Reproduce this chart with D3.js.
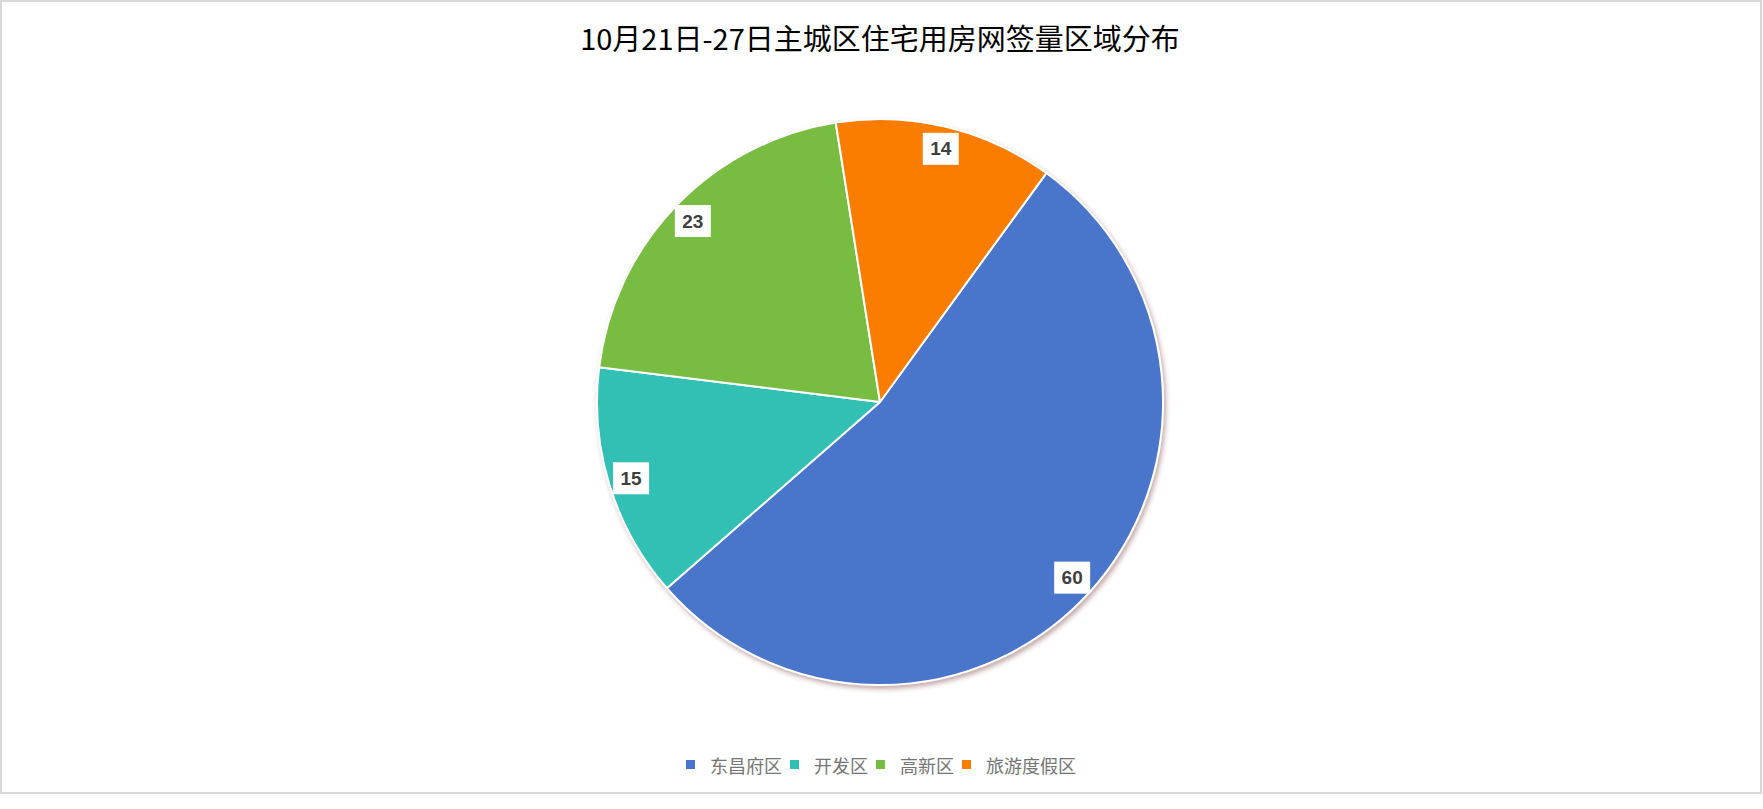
<!DOCTYPE html>
<html>
<head>
<meta charset="utf-8">
<script src="https://cdn.jsdelivr.net/npm/d3@7"></script>
<style>
  html, body { margin: 0; padding: 0; background: #fff; }
  svg { display: block; }
</style>
</head>
<body>
<script>
const title = "10月21日-27日主城区住宅用房网签量区域分布"
const districts = ["东昌府区", "开发区", "高新区", "旅游度假区"]
const signed = [60, 15, 23, 14]
const colors = ["#4874CB", "#31C0B4", "#78BD43", "#FA7D00"]

const w = 1763
const h = 809
const cx = 880
const cy = 402
const r = 283

const svg = d3.select('body')
    .append('svg')
    .attr('width', w)
    .attr('height', h)

// chart frame
svg.append('rect')
    .attr('x', 1)
    .attr('y', 1)
    .attr('width', w - 3)
    .attr('height', 792)
    .attr('fill', '#fff')
    .attr('stroke', '#d9d9d9')
    .attr('stroke-width', 2)

const defs = svg.append('defs')
defs.append('filter')
    .attr('id', 'shadow')
    .attr('x', '-10%').attr('y', '-10%')
    .attr('width', '120%').attr('height', '120%')
    .append('feDropShadow')
    .attr('dx', 2)
    .attr('dy', 3)
    .attr('stdDeviation', 2.5)
    .attr('flood-color', '#7a3f3f')
    .attr('flood-opacity', 0.45)

svg.append('text')
    .attr('x', cx)
    .attr('y', 37)
    .attr('text-anchor', 'middle')
    .attr('dominant-baseline', 'central')
    .attr('font-family', '"Noto Sans CJK SC", "Liberation Sans", sans-serif')
    .attr('font-size', 29)
    .attr('fill', '#000')
    .text(title)

const rows = districts.map((d, i) => ({ name: d, value: signed[i], color: colors[i] }))

const startDeg = 36
const pie = d3.pie()
    .value(d => d.value)
    .sort(null)
    .startAngle(startDeg * Math.PI / 180)
    .endAngle((startDeg + 360) * Math.PI / 180)

const arcs = pie(rows)

const arc = d3.arc()
    .innerRadius(0)
    .outerRadius(r)

const labelArc = d3.arc()
    .innerRadius(r * 0.92)
    .outerRadius(r * 0.92)

const g = svg.append('g')
    .attr('transform', `translate(${cx}, ${cy})`)

g.append('g')
    .attr('filter', 'url(#shadow)')
    .selectAll('path')
    .data(arcs)
    .enter()
    .append('path')
    .attr('d', arc)
    .attr('fill', d => d.data.color)
    .attr('stroke', '#fff')
    .attr('stroke-width', 2)
    .attr('stroke-linejoin', 'round')

const labels = g.selectAll('.lbl')
    .data(arcs)
    .enter()
    .append('g')
    .attr('class', 'lbl')
    .attr('transform', d => `translate(${labelArc.centroid(d)})`)

labels.append('rect')
    .attr('x', -18)
    .attr('y', -16)
    .attr('width', 36)
    .attr('height', 32)
    .attr('fill', '#fff')

labels.append('text')
    .attr('text-anchor', 'middle')
    .attr('dominant-baseline', 'central')
    .attr('font-family', '"Liberation Sans", Arial, sans-serif')
    .attr('font-weight', 'bold')
    .attr('font-size', 19)
    .attr('fill', '#404040')
    .text(d => d.data.value)

// legend
const legend = svg.append('g')
    .attr('transform', `translate(0, 765)`)

let lx = 686
rows.forEach(d => {
    legend.append('rect')
        .attr('x', lx)
        .attr('y', -5)
        .attr('width', 9)
        .attr('height', 9)
        .attr('fill', d.color)
    const t = legend.append('text')
        .attr('x', lx + 24)
        .attr('y', 0)
        .attr('dominant-baseline', 'central')
        .attr('font-family', '"Noto Sans CJK SC", sans-serif')
        .attr('font-size', 18)
        .attr('fill', '#757575')
        .text(d.name)
    lx = lx + 24 + t.node().getComputedTextLength() + 8
})
</script>
</body>
</html>
